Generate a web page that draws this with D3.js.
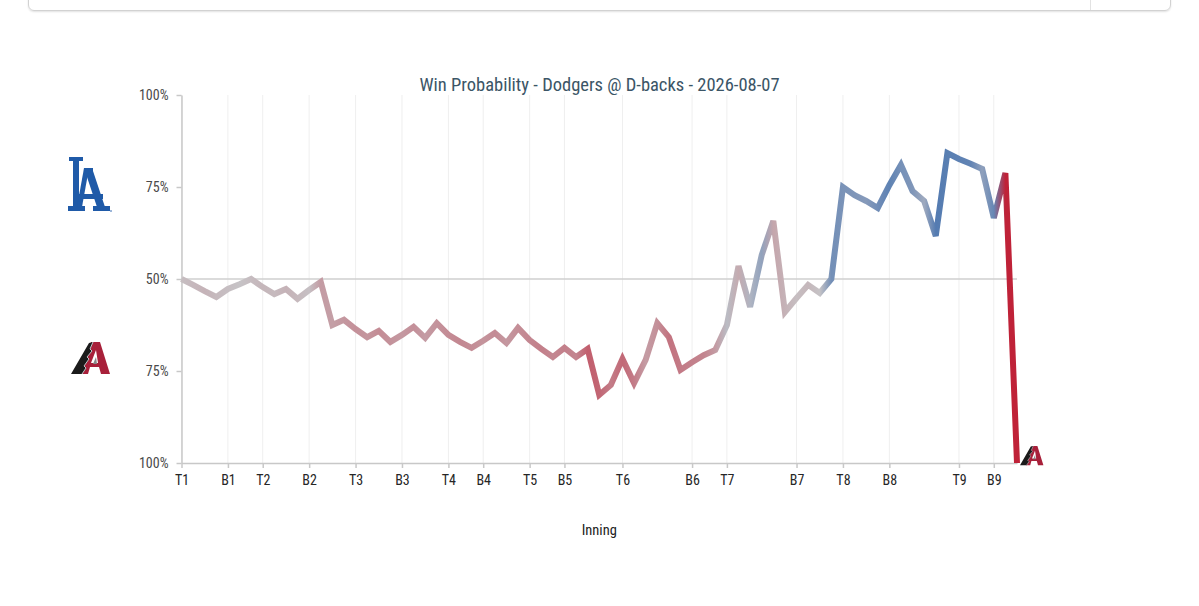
<!DOCTYPE html>
<html>
<head>
<meta charset="utf-8">
<script src="https://cdn.jsdelivr.net/npm/d3@7"></script>
<style>
	body { margin: 0; background: #fff; }
	.card { position: absolute; left: 28px; top: -20px; width: 1141px; height: 29px;
		border: 1px solid #d2d2d2; border-radius: 6px; box-shadow: 0 1px 2px rgba(0,0,0,0.12); }
	.card .sep { position: absolute; left: 1061px; top: 0; bottom: 0; border-left: 1px solid #e2e2e2; }
	svg { position: absolute; left: 0; top: 0; }
	svg text { font-family: "Roboto Condensed", Roboto, sans-serif; font-stretch: condensed; }
	svg .tick text { font-size: 14px; }
</style>
</head>
<body>
<div class="card"><div class="sep"></div></div>
<svg class="chart" width="1199" height="606"></svg>
<script>
// Dodgers win probability (%) after each plate appearance
const winProb = [
	50.0, 48.4, 46.7, 45.1, 47.3, 48.6, 50.0, 47.8, 45.9, 47.3,
	44.6, 47.0, 49.2, 37.5, 38.9, 36.4, 34.2, 35.9, 32.9, 34.8,
	37.0, 34.0, 38.0, 34.8, 32.9, 31.3, 33.2, 35.3, 32.6, 36.7,
	33.4, 31.0, 28.8, 31.3, 28.8, 31.0, 18.5, 21.2, 28.3, 21.7,
	28.0, 38.0, 34.2, 25.3, 27.4, 29.3, 30.7, 37.5, 53.5, 42.4,
	56.5, 65.8, 41.0, 44.8, 48.4, 46.2, 50.0, 75.0, 72.8, 71.2,
	69.3, 75.5, 81.0, 73.9, 71.2, 61.7, 84.2, 82.6, 81.3, 79.9,
	66.6, 78.8, 0.0
];

// first plate appearance of each half inning
const inningIndex = [0, 4, 7, 11, 15, 19, 23, 26, 30, 33, 38, 44, 47, 53, 57, 61, 67, 70];
const inningLabels = ["T1", "B1", "T2", "B2", "T3", "B3", "T4", "B4", "T5", "B5", "T6", "B6", "T7", "B7", "T8", "B8", "T9", "B9"];

const probTicks = [100, 75, 50, 25, 0];
const probTickLabels = ["100%", "75%", "50%", "75%", "100%"];

const title = "Win Probability - Dodgers @ D-backs - 2026-08-07";

var svg = d3.select("svg.chart"),
    margin = {top: 95, right: 182, bottom: 143, left: 181.5},
    W = +svg.attr("width"),
    H = +svg.attr("height");

var x = d3.scaleLinear()
	.domain([0, winProb.length - 1])
	.range([margin.left, W - margin.right]);

var y = d3.scaleLinear()
	.domain([0, 100])
	.range([H - margin.bottom, margin.top]);

// grey at even, red toward D-backs, blue toward Dodgers
var color = d3.scaleLinear()
	.domain([0, 50, 100])
	.range(["#bf2238", "#c6c3c6", "#1f5aa8"]);

svg.append("text")
	.attr("x", W / 2)
	.attr("y", 91)
	.attr("text-anchor", "middle")
	.attr("fill", "#3b5566")
	.style("font-size", "18.5px")
	.text(title);

// vertical grid at each half inning
svg.append("g").selectAll("line")
	.data(inningIndex)
	.join("line")
	.attr("x1", d => x(d)).attr("x2", d => x(d))
	.attr("y1", y(0)).attr("y2", y(100))
	.attr("stroke", "#efefef")
	.attr("stroke-width", 1);

// 50% line
svg.append("line")
	.attr("x1", x(0)).attr("x2", x(winProb.length - 1))
	.attr("y1", y(50)).attr("y2", y(50))
	.attr("stroke", "#cfcfcf")
	.attr("stroke-width", 1.5);

var yAxis = svg.append("g")
	.attr("transform", "translate(" + x(0) + ",0)")
	.call(d3.axisLeft(y).tickValues(probTicks).tickFormat((d, i) => probTickLabels[i]).tickSize(5).tickSizeOuter(0).tickPadding(8));

var xAxis = svg.append("g")
	.attr("transform", "translate(0," + y(0) + ")")
	.call(d3.axisBottom(x).tickValues(inningIndex).tickFormat((d, i) => inningLabels[i]).tickSize(5).tickSizeOuter(0).tickPadding(7));

[yAxis, xAxis].forEach(function(a) {
	a.attr("font-size", null);
	a.select(".domain").attr("stroke", "#c8c8c8").attr("stroke-width", 1.5);
	a.selectAll(".tick line").attr("stroke", "#c8c8c8").attr("stroke-width", 1.5);
	a.selectAll(".tick text").attr("fill", "#262626");
});
yAxis.selectAll(".tick text").attr("fill", "#4a4a4a");

svg.append("text")
	.attr("x", (x(0) + x(winProb.length - 1)) / 2)
	.attr("y", 535)
	.attr("text-anchor", "middle")
	.attr("fill", "#222")
	.style("font-size", "14.5px")
	.text("Inning");

// gradient along the line, each stop takes the colour of the next value
var n = winProb.length;
var grad = svg.append("defs").append("linearGradient")
	.attr("id", "wpGrad")
	.attr("gradientUnits", "userSpaceOnUse")
	.attr("x1", x(0)).attr("x2", x(n - 1))
	.attr("y1", 0).attr("y2", 0);

grad.selectAll("stop")
	.data(winProb)
	.join("stop")
	.attr("offset", (d, i) => (x(i) - x(0)) / (x(n - 1) - x(0)))
	.attr("stop-color", (d, i) => color(winProb[Math.min(i + 1, n - 1)]));

var line = d3.line()
	.x((d, i) => x(i))
	.y(d => y(d));

svg.append("path")
	.datum(winProb)
	.attr("fill", "none")
	.attr("stroke", "url(#wpGrad)")
	.attr("stroke-width", 6)
	.attr("stroke-linejoin", "miter")
	.attr("d", line);

// team logos (drawn, no images available)
function dodgersLogo(g) {
	var blue = "#1f5aa8";
	[[13, 12, 6, 52], [9, 12, 14, 4], [8, 61, 17, 5], [13, 49, 30, 5], [33, 61, 17, 5], [24, 23, 9, 3]]
		.forEach(r => g.append("rect").attr("x", r[0]).attr("y", r[1]).attr("width", r[2]).attr("height", r[3]).attr("fill", blue));
	g.append("polygon").attr("points", "24,23 32,23 45,62 37,62").attr("fill", blue);
	g.append("polygon").attr("points", "24,23 29,23 22,62 17,62").attr("fill", blue);
	g.append("circle").attr("cx", 51).attr("cy", 66).attr("r", 0.8).attr("fill", blue);
}

function dbacksLogo(g) {
	g.append("polygon").attr("points", "10,32 20,0 29,0 39,32 30,32 28,25 19,25 17,32").attr("fill", "#a8203a");
	g.append("polygon").attr("points", "20,21 25,8 27,21").attr("fill", "#fff");
	g.append("polygon").attr("points", "0,32 18,1 22,0 19,7 21,9 16,15 18,17 13,24 15,26 11,32").attr("fill", "#1b1b1b");
	g.append("polyline").attr("points", "22,0 19,7 21,9 16,15 18,17 13,24 15,26 11,32")
		.attr("fill", "none").attr("stroke", "#b9c5c8").attr("stroke-width", 1);
	g.append("polygon").attr("points", "22,22 25,15 26,22").attr("fill", "#888");
}

dodgersLogo(svg.append("g").attr("transform", "translate(60,145)"));
dbacksLogo(svg.append("g").attr("transform", "translate(71,342)"));
// winner's logo at the end of the line
dbacksLogo(svg.append("g").attr("transform", "translate(" + (x(n - 1) + 3) + "," + (y(0) - 17) + ") scale(0.6)"));
</script>
</body>
</html>
